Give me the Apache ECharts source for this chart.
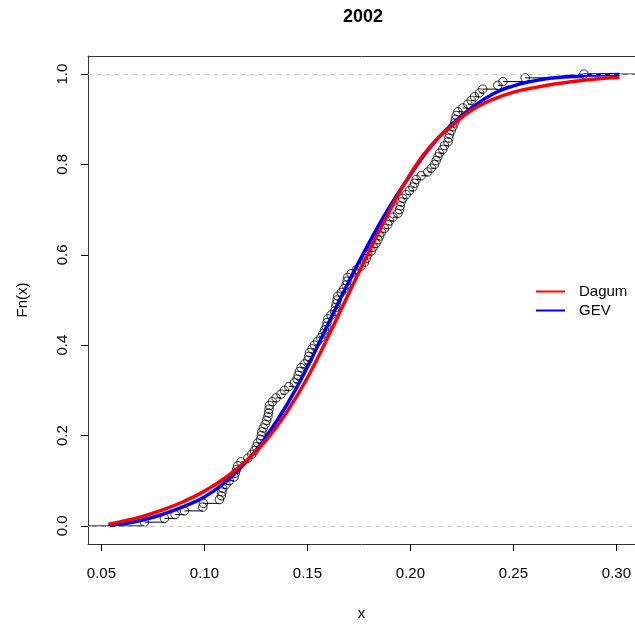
<!DOCTYPE html>
<html>
<head>
<meta charset="utf-8">
<script src="https://cdn.jsdelivr.net/npm/echarts@6/dist/echarts.min.js"></script>
<style>
  html, body { margin: 0; padding: 0; background: #fff; }
  #chart { width: 635px; height: 626px; }
</style>
</head>
<body>
<div id="chart"></div>
<script>
// sample values
const sample = [
  0.0709, 0.0806, 0.0858, 0.0903, 0.0992, 0.0995, 0.1073, 0.1082, 0.1085, 0.1089,
  0.1105, 0.1121, 0.1144, 0.1150, 0.1156, 0.1162, 0.1178, 0.1211, 0.1230, 0.1243,
  0.1252, 0.1259, 0.1272, 0.1276, 0.1279, 0.1286, 0.1295, 0.1302, 0.1308, 0.1311,
  0.1314, 0.1316, 0.1330, 0.1348, 0.1372, 0.1388, 0.1410, 0.1437, 0.1450, 0.1455,
  0.1461, 0.1469, 0.1485, 0.1502, 0.1506, 0.1510, 0.1522, 0.1534, 0.1550, 0.1565,
  0.1575, 0.1583, 0.1591, 0.1595, 0.1599, 0.1615, 0.1631, 0.1636, 0.1640, 0.1644,
  0.1648, 0.1664, 0.1677, 0.1688, 0.1692, 0.1696, 0.1712, 0.1737, 0.1761, 0.1777,
  0.1786, 0.1793, 0.1809, 0.1819, 0.1833, 0.1843, 0.1851, 0.1859, 0.1874, 0.1890,
  0.1898, 0.1915, 0.1939, 0.1947, 0.1951, 0.1955, 0.1963, 0.1979, 0.1995, 0.2012,
  0.2020, 0.2028, 0.2052, 0.2084, 0.2101, 0.2117, 0.2125, 0.2133, 0.2141, 0.2157,
  0.2165, 0.2182, 0.2186, 0.2190, 0.2198, 0.2206, 0.2214, 0.2218, 0.2222, 0.2230,
  0.2254, 0.2279, 0.2295, 0.2311, 0.2335, 0.2351, 0.2424, 0.2449, 0.2557, 0.2842
];

// fitted curves
const curveX = [0.0534, 0.06, 0.07, 0.08, 0.09, 0.10, 0.11, 0.12, 0.13, 0.14, 0.15, 0.16, 0.17,
  0.18, 0.19, 0.20, 0.21, 0.22, 0.23, 0.24, 0.25, 0.26, 0.27, 0.28, 0.29, 0.3015];
const dagumY = [0.004, 0.010, 0.021, 0.036, 0.054, 0.077, 0.106, 0.143, 0.190, 0.252, 0.328, 0.418, 0.514,
  0.608, 0.698, 0.779, 0.842, 0.885, 0.921, 0.944, 0.960, 0.970, 0.978, 0.984, 0.989, 0.993];
const gevY = [0.001, 0.004, 0.013, 0.026, 0.043, 0.064, 0.097, 0.140, 0.198, 0.268, 0.352, 0.447, 0.540,
  0.627, 0.707, 0.777, 0.840, 0.888, 0.926, 0.956, 0.974, 0.985, 0.992, 0.996, 0.998, 0.999];

const xTicks = [0.05, 0.10, 0.15, 0.20, 0.25, 0.30];
const yTicks = [0, 0.2, 0.4, 0.6, 0.8, 1.0];
const seriesNames = ['Dagum', 'GEV'];

const X_MIN = 0.0435, X_MAX = 0.3090;
const FONT = '"Liberation Sans", Arial, sans-serif';
const BOX = '#333';

// empirical cdf
const sorted = sample.slice().sort((a, b) => a - b);
const n = sorted.length;
const pts = [];
sorted.forEach((v, i) => {
  if (i < n - 1 && sorted[i + 1] === v) return;
  pts.push([v, (i + 1) / n]);
});
const segs = [[X_MIN, pts[0][0], 0]];
pts.forEach((p, i) => {
  const next = i < pts.length - 1 ? pts[i + 1][0] : X_MAX;
  segs.push([p[0], next, p[1]]);
});

const chart = echarts.init(document.getElementById('chart'), null, { renderer: 'canvas' });

const option = {
  animation: false,
  backgroundColor: '#fff',
  textStyle: { fontFamily: FONT },
  title: {
    text: '2002',
    left: 363,
    top: 8,
    padding: 0,
    textAlign: 'center',
    textStyle: { fontSize: 18, fontWeight: 'bold', color: '#000', fontFamily: FONT }
  },
  legend: {
    data: seriesNames,
    orient: 'vertical',
    left: 536,
    top: 284,
    padding: 0,
    icon: 'rect',
    itemWidth: 29,
    itemHeight: 2,
    itemGap: 4,
    textStyle: { fontSize: 15, color: '#000', fontFamily: FONT, padding: [0, 0, 0, 9] }
  },
  grid: {
    left: 88, top: 56, right: 0, bottom: 78,
    show: false,
    containLabel: false
  },
  xAxis: [
    {
      type: 'value',
      min: X_MIN, max: X_MAX,
      name: 'x',
      nameLocation: 'middle',
      nameGap: 62,
      nameTextStyle: { fontSize: 15, color: '#000', fontFamily: FONT },
      axisLine: { show: true, onZero: false, lineStyle: { color: BOX, width: 1 } },
      splitLine: { show: false },
      axisTick: { show: true, inside: false, length: 7, customValues: xTicks, lineStyle: { color: '#000' } },
      axisLabel: {
        customValues: xTicks, margin: 22, fontSize: 15, color: '#000', fontFamily: FONT,
        formatter: v => v.toFixed(2)
      }
    },
    {
      type: 'value',
      position: 'top',
      min: X_MIN, max: X_MAX,
      axisLine: { show: true, onZero: false, lineStyle: { color: BOX, width: 1 } },
      axisTick: { show: false },
      axisLabel: { show: false },
      splitLine: { show: false }
    }
  ],
  yAxis: {
    type: 'value',
    min: -0.04, max: 1.04,
    name: 'Fn(x)',
    nameLocation: 'middle',
    nameGap: 58,
    nameRotate: 90,
    nameTextStyle: { fontSize: 15, color: '#000', fontFamily: FONT },
    axisLine: { show: true, onZero: false, lineStyle: { color: BOX, width: 1 } },
    splitLine: { show: false },
    axisTick: { show: true, inside: false, length: 7, customValues: yTicks, lineStyle: { color: '#000' } },
    axisLabel: {
      customValues: yTicks, margin: 18, rotate: 90, fontSize: 15, color: '#000', fontFamily: FONT,
      formatter: v => v.toFixed(1)
    }
  },
  series: [
    {
      name: 'ecdf-steps',
      type: 'custom',
      data: segs,
      encode: { x: [0, 1], y: 2 },
      silent: true,
      clip: true,
      renderItem: (params, api) => {
        const a = api.coord([api.value(0), api.value(2)]);
        const b = api.coord([api.value(1), api.value(2)]);
        return {
          type: 'line',
          shape: { x1: a[0], y1: a[1], x2: b[0], y2: b[1] },
          style: { stroke: '#000', lineWidth: 1 }
        };
      },
      markLine: {
        silent: true,
        symbol: 'none',
        label: { show: false },
        lineStyle: { color: '#c4c4c4', type: [4, 5], width: 1 },
        data: [{ yAxis: 0 }, { yAxis: 1 }]
      },
      z: 1
    },
    {
      name: 'ecdf',
      type: 'scatter',
      data: pts,
      symbol: 'circle',
      symbolSize: 8.5,
      itemStyle: { color: 'rgba(0,0,0,0)', borderColor: '#000', borderWidth: 1 },
      z: 2
    },
    {
      name: 'GEV',
      type: 'line',
      data: curveX.map((x, i) => [x, gevY[i]]),
      smooth: 0.5,
      showSymbol: false,
      color: '#0000ff',
      lineStyle: { color: '#0000ff', width: 3.5 },
      z: 3
    },
    {
      name: 'Dagum',
      type: 'line',
      data: curveX.map((x, i) => [x, dagumY[i]]),
      smooth: 0.5,
      showSymbol: false,
      color: '#ff0000',
      lineStyle: { color: '#ff0000', width: 3.5 },
      z: 4
    }
  ]
};

chart.setOption(option);
</script>
</body>
</html>
